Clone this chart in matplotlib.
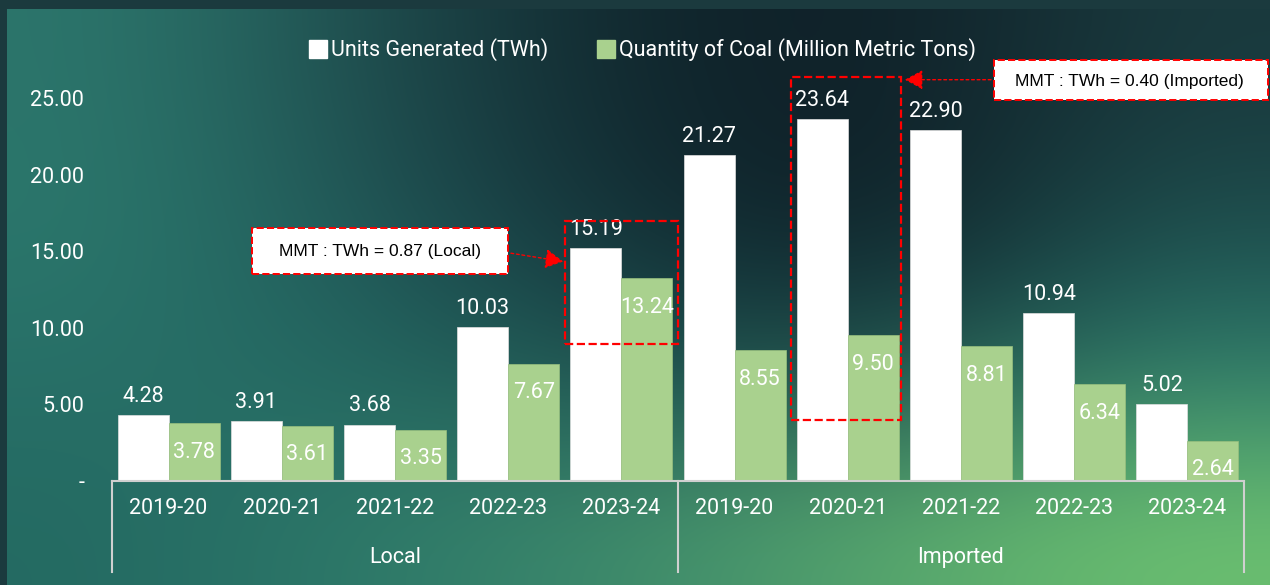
import matplotlib.pyplot as plt
import numpy as np
from matplotlib.patches import Rectangle
from matplotlib.lines import Line2D

years = ["2019-20", "2020-21", "2021-22", "2022-23", "2023-24"]
groups = ["Local", "Imported"]
units_twh = [4.28, 3.91, 3.68, 10.03, 15.19, 21.27, 23.64, 22.90, 10.94, 5.02]
coal_mmt = [3.78, 3.61, 3.35, 7.67, 13.24, 8.55, 9.50, 8.81, 6.34, 2.64]
yticks = [0, 5, 10, 15, 20, 25]
local_note = "MMT : TWh = 0.87 (Local)"
imported_note = "MMT : TWh = 0.40 (Imported)"

font = "Roboto"
white = "#FFFFFF"
green = "#A9D18E"
red = "#FF0000"

fig = plt.figure(figsize=(12.7, 5.85), dpi=100)

# background gradient
bg = fig.add_axes([0, 0, 1, 1])
bg.set_axis_off()
grid = np.array([
    ["#2c766c", "#1e4a4c", "#10252c", "#0f1f27", "#1a3a3e"],
    ["#2b786c", "#205456", "#122c33", "#0e1d25", "#1d4c4c"],
    ["#287068", "#236660", "#1c4e4e", "#1c4c4c", "#2c7a6c"],
    ["#246a62", "#2e7a6a", "#3f8c6c", "#58a86e", "#6cc070"],
])
rgb = np.array([[[int(c[i:i + 2], 16) / 255 for i in (1, 3, 5)] for c in row] for row in grid])
bg.imshow(rgb, extent=[0, 1, 0, 1], aspect="auto", interpolation="bicubic")
bg.set_xlim(0, 1)
bg.set_ylim(0, 1)
bg.add_patch(Rectangle((0, 0.985), 1, 0.015, color="#1b3a3e", lw=0))
bg.add_patch(Rectangle((0, 0), 0.0055, 1, color="#1b3a3e", lw=0))

ax = fig.add_axes([0.0882, 0.1778, 0.8913, 0.720])
ax.patch.set_alpha(0)
n = len(units_twh)
x = np.arange(n)
w = 0.45
ax.bar(x - w / 2, units_twh, w, color=white, edgecolor="#e0e0e0", lw=0.5, zorder=2)
ax.bar(x + w / 2, coal_mmt, w, color=green, edgecolor="#98c07e", lw=0.5, zorder=2)

for i in range(n):
    ax.annotate(f"{units_twh[i]:.2f}", (x[i] - w / 2, units_twh[i]), xytext=(0, 6),
                textcoords="offset points", ha="center", va="bottom",
                color="white", fontsize=15.5, family=font)
    ax.annotate(f"{coal_mmt[i]:.2f}", (x[i] + w / 2, coal_mmt[i]), xytext=(0, -21),
                textcoords="offset points", ha="center", va="center",
                color="white", fontsize=15.5, family=font)

ax.set_xlim(-0.5, n - 0.5)
ax.set_ylim(0, 27.5)
ax.set_yticks(yticks)
ax.set_yticklabels(["-" if v == 0 else f"{v:.2f}" for v in yticks],
                   color="white", fontsize=15.5, family=font)
ax.tick_params(axis="y", length=0, pad=20)
ax.set_xticks(x)
ax.set_xticklabels(years * 2, color="white", fontsize=15.5, family=font)
ax.tick_params(axis="x", length=0, pad=12)
for s in ["top", "right", "left"]:
    ax.spines[s].set_visible(False)
ax.spines["bottom"].set_color("#d0d0d0")
ax.spines["bottom"].set_linewidth(1.5)

# group separators and labels
for xs in [-0.5, 4.5, 9.5]:
    ax.plot([xs, xs], [0, -5.94], color="#d0d0d0", lw=1.5, clip_on=False)
for gi, g in enumerate(groups):
    ax.text(gi * 5 + 2, -5.0, g, ha="center", va="center", color="white",
            fontsize=15.5, family=font)

# highlight boxes
ax.add_patch(Rectangle((3.5, 8.94), 1.0, 8.06, fill=False, ec=red, ls="--", lw=1.6, zorder=4))
ax.add_patch(Rectangle((5.5, 3.98), 0.97, 22.42, fill=False, ec=red, ls="--", lw=1.6, zorder=4))

# callouts
arrow = dict(arrowstyle="-|>,head_length=1.1,head_width=0.6", color=red,
             ls=(0, (2, 2)), lw=1)
ax.add_patch(Rectangle((0.737, 13.5), 2.263, 3.0, fc="white", ec=red, ls="--", lw=1.4,
                       zorder=5, clip_on=False))
ax.text(1.87, 15.0, local_note, ha="center", va="center", fontsize=12.5,
        family="Liberation Sans", color="black", zorder=6)
ax.annotate("", xy=(3.51, 14.3), xytext=(3.0, 14.9), arrowprops=arrow, zorder=6)
ax.add_patch(Rectangle((7.29, 24.9), 2.42, 2.6, fc="white", ec=red, ls="--", lw=1.4,
                       zorder=5, clip_on=False))
ax.text(8.49, 26.1, imported_note, ha="center", va="center", fontsize=12.5,
        family="Liberation Sans", color="black", zorder=6, clip_on=False)
ax.annotate("", xy=(6.48, 26.2), xytext=(7.29, 26.2), arrowprops=arrow,
            zorder=6, annotation_clip=False)

handles = [Line2D([], [], marker="s", ls="", color=white, markersize=13),
           Line2D([], [], marker="s", ls="", color=green, markersize=13)]
fig.legend(handles, ["Units Generated (TWh)", "Quantity of Coal (Million Metric Tons)"],
           loc="center", bbox_to_anchor=(0.505, 0.915), ncol=2, frameon=False,
           handletextpad=0.1, columnspacing=2.2, handlelength=1.0,
           prop={"family": font, "size": 15.5}, labelcolor="white")

fig.savefig("out.png", dpi=100)
